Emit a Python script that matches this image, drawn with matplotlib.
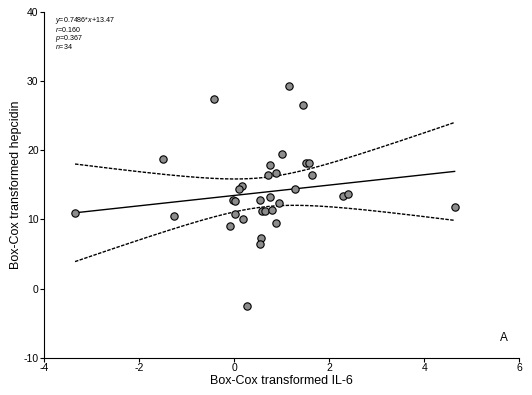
import numpy as np
import matplotlib.pyplot as plt

plt.rcParams["font.family"] = ["Liberation Sans", "DejaVu Sans"]
plt.rcParams["mathtext.fontset"] = "custom"
plt.rcParams["mathtext.rm"] = "Liberation Sans"
plt.rcParams["mathtext.it"] = "Liberation Sans:italic"
plt.rcParams["axes.unicode_minus"] = False

# values
il6 = np.array([-3.35, -1.49, -1.26, -0.42, 1.15, 1.01, 0.76, 0.87, 0.72, 0.17,
                0.11, 1.27, -0.03, 0.01, 0.55, 0.75, 0.94, 0.58, 0.65, 0.80,
                0.02, 0.19, -0.09, 0.89, 0.57, 0.54, 1.45, 1.51, 1.57, 1.63,
                2.29, 2.40, 4.64, 0.28])
hepcidin = np.array([10.91, 18.76, 10.56, 27.47, 29.35, 19.48, 17.93, 16.73, 16.40, 14.86,
                     14.42, 14.42, 12.79, 12.64, 12.83, 13.27, 12.36, 11.24, 11.24, 11.43,
                     10.85, 10.13, 9.08, 9.51, 7.34, 6.43, 26.56, 18.14, 18.14, 16.40,
                     13.41, 13.70, 11.86, -2.49])
slope, intercept = 0.7486, 13.47
stats_lines = ["$\\it{y}$=0.7486*$\\it{x}$+13.47", "$\\it{r}$=0.160", "$\\it{p}$=0.367", "$\\it{n}$=34"]

fig = plt.figure(figsize=(5.32, 3.95), dpi=100)
ax = fig.add_axes([0.083, 0.094, 0.893, 0.876])

# regression line and 95% confidence band
n = len(il6)
xs = np.linspace(il6.min(), il6.max(), 200)
fit = slope * xs + intercept
resid = hepcidin - (slope * il6 + intercept)
s = np.sqrt(np.sum(resid ** 2) / (n - 2))
sxx = np.sum((il6 - il6.mean()) ** 2)
half = 2.037 * s * np.sqrt(1 / n + (xs - il6.mean()) ** 2 / sxx)

ax.plot(xs, fit, color="black", lw=1.0)
ax.plot(xs, fit + half, color="black", lw=1.0, ls=(0, (2.5, 1)))
ax.plot(xs, fit - half, color="black", lw=1.0, ls=(0, (2.5, 1)))
ax.scatter(il6, hepcidin, s=28, facecolor="#8c8c8c", edgecolor="black", linewidth=0.8, zorder=3)

ax.set_xlim(-4, 6)
ax.set_ylim(-10, 40)
ax.set_xticks([-4, -2, 0, 2, 4, 6])
ax.set_yticks([-10, 0, 10, 20, 30, 40])
ax.spines["top"].set_visible(False)
ax.spines["right"].set_visible(False)
ax.tick_params(direction="out", length=3, width=0.8, labelsize=7.5, pad=1)
ax.set_xlabel("Box-Cox transformed IL-6", fontsize=9, labelpad=1)
ax.set_ylabel("Box-Cox transformed hepcidin", fontsize=9, labelpad=1)

for i, line in enumerate(stats_lines):
    fig.text(55 / 532, 1 - (21 + 8.6 * i) / 395, line, fontsize=5.1, va="center", ha="left")
ax.text(0.975, 0.04, "A", transform=ax.transAxes, fontsize=8.5, ha="right", va="bottom")

fig.savefig("out.png", dpi=100)
